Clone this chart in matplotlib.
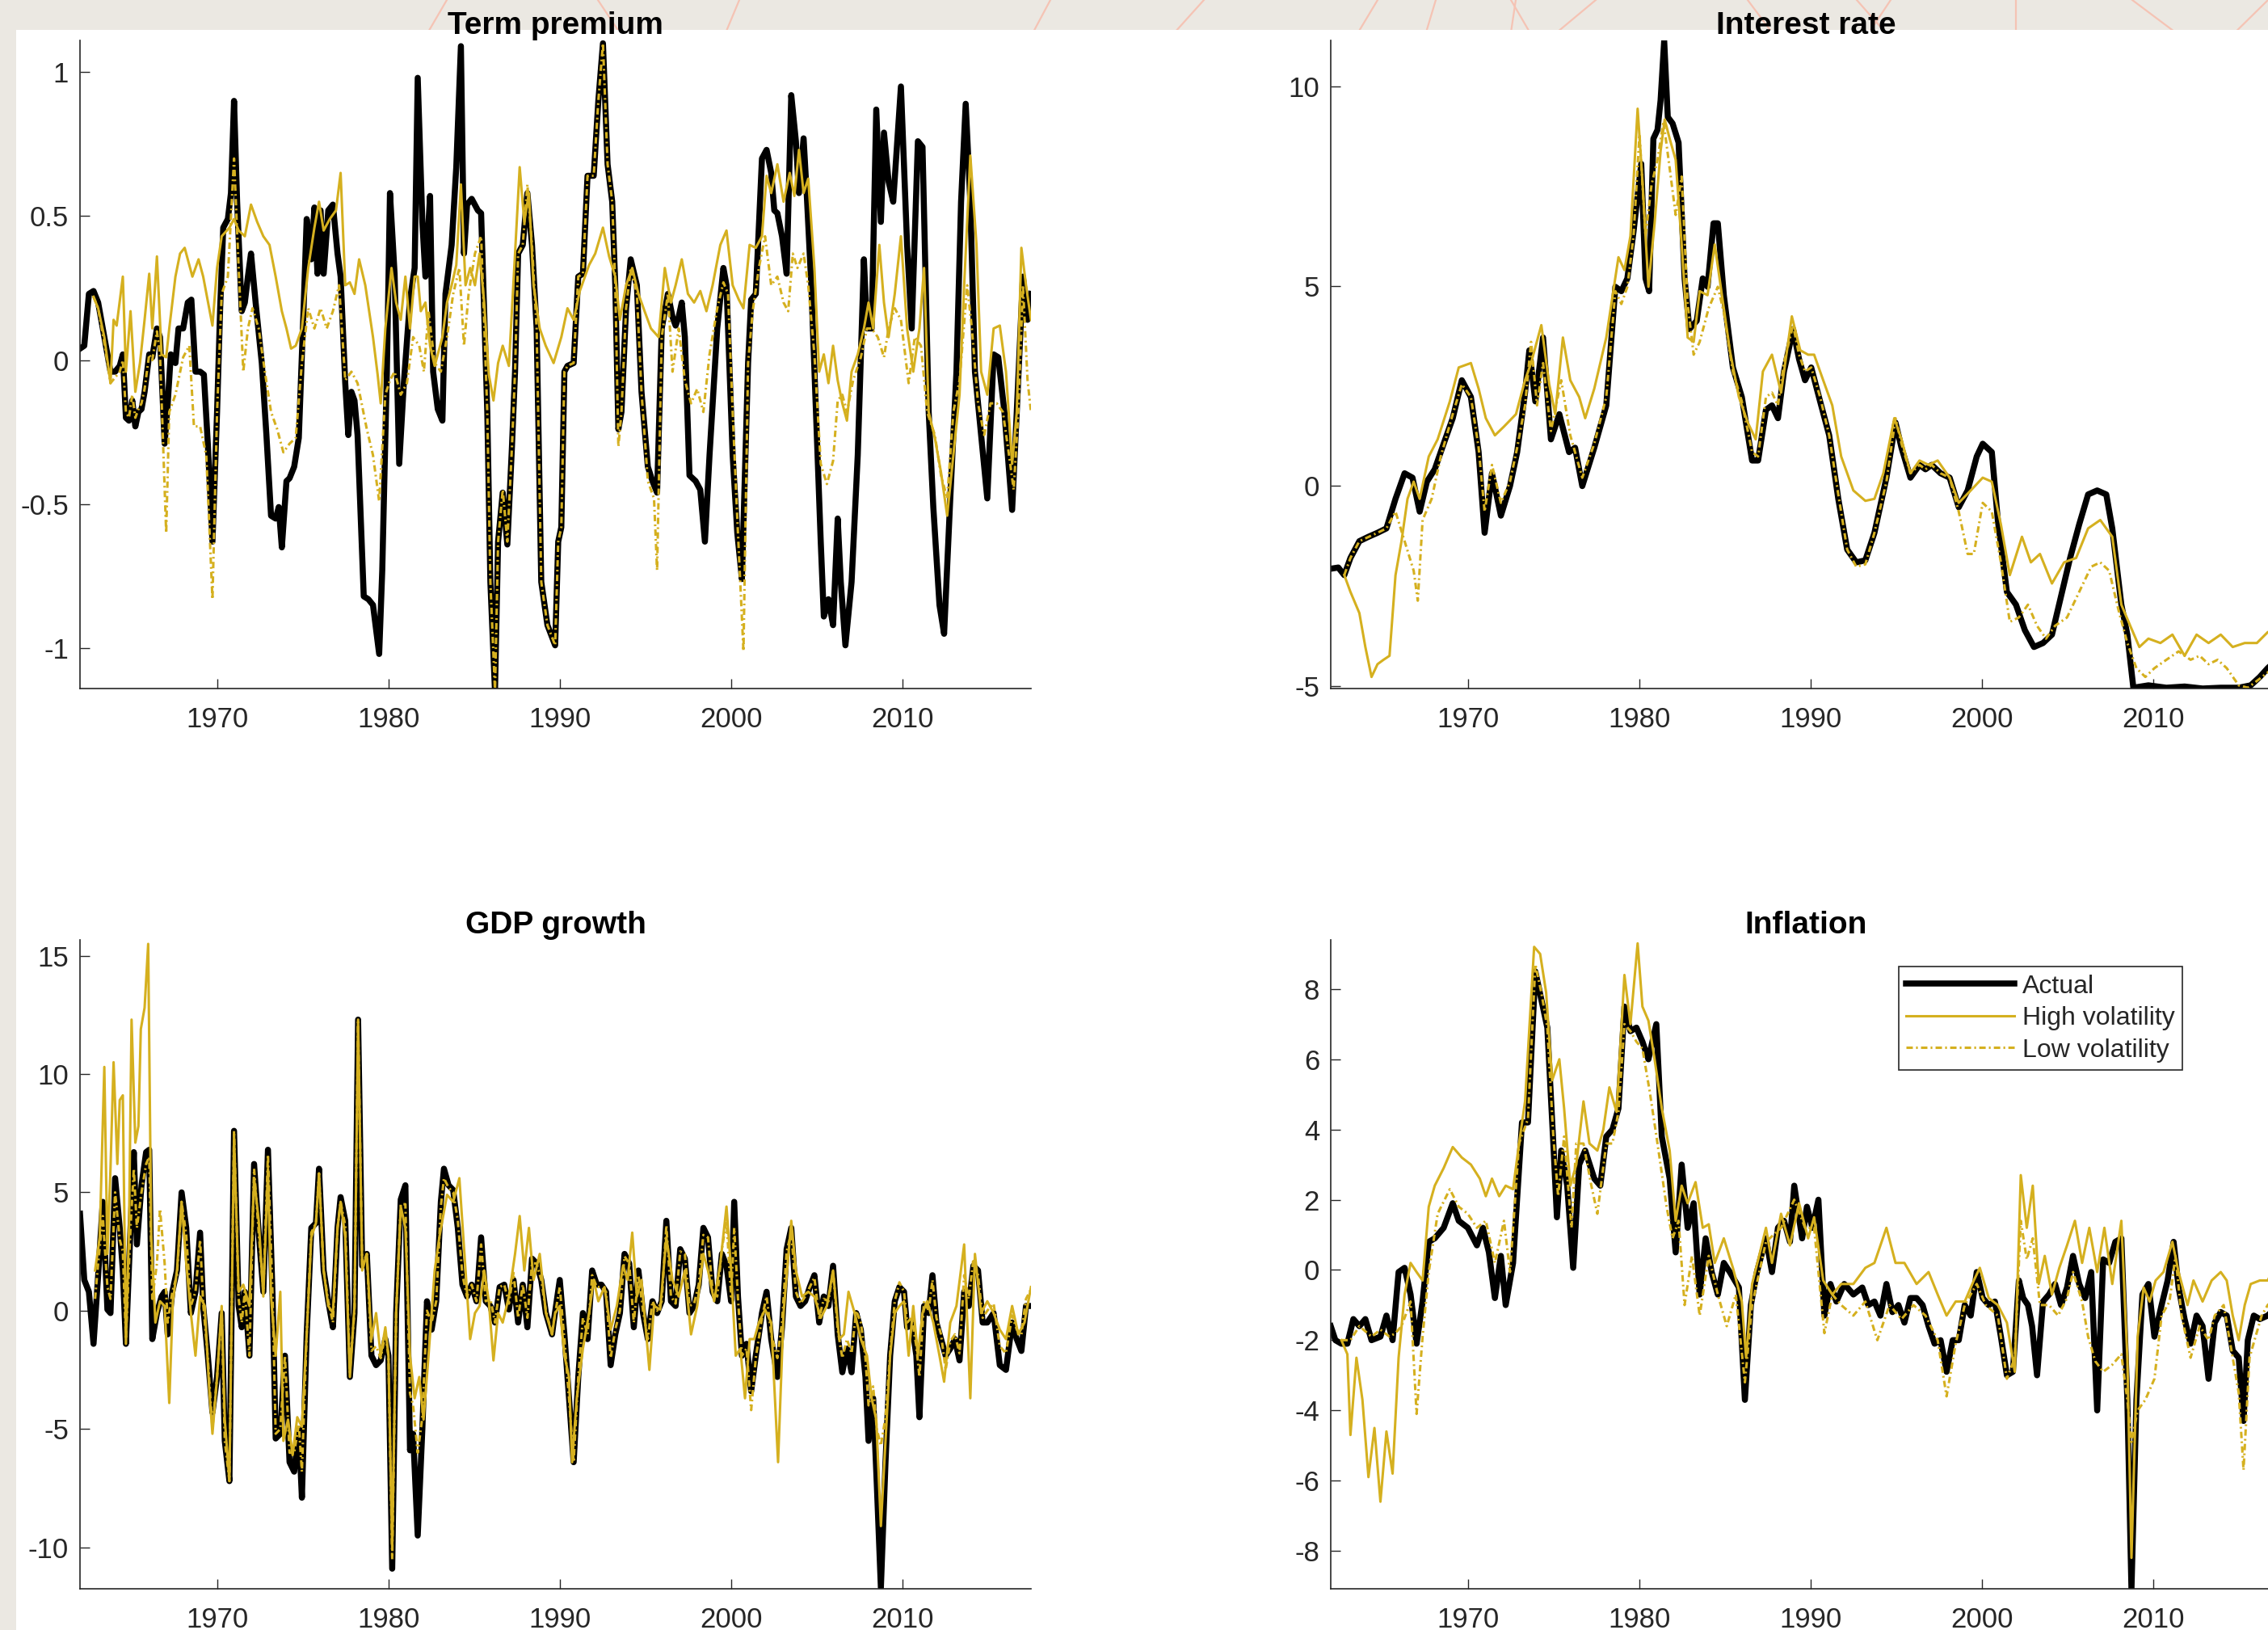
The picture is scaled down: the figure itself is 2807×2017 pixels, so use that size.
import numpy as np
import matplotlib
matplotlib.use('Agg')
import matplotlib.pyplot as plt
from matplotlib.lines import Line2D
from matplotlib.patches import Rectangle

plt.rcParams['font.family'] = ['Liberation Sans', 'DejaVu Sans']
plt.rcParams['axes.unicode_minus'] = False

W, H = 2807, 2017
GOLD = '#D5B01F'
INK = '#262626'
BG = '#EBE8E2'

series_names = ['Actual', 'High volatility', 'Low volatility']
year_ticks = [1970, 1980, 1990, 2000, 2010]

# ---------------- term premium (year, value) ----------------
tp_actual = [
    (1962.00, 0.04), (1962.25, 0.05), (1962.52, 0.23), (1962.79, 0.24), (1963.06, 0.20), (1963.42, 0.08),
    (1963.78, -0.04), (1964.05, -0.04), (1964.32, -0.02), (1964.50, 0.02), (1964.68, -0.20), (1964.86, -0.21),
    (1965.05, -0.14), (1965.23, -0.23), (1965.41, -0.18), (1965.59, -0.17), (1965.77, -0.11), (1966.04, 0.02),
    (1966.22, 0.01), (1966.49, 0.11), (1966.67, 0.08), (1966.94, -0.29), (1967.12, -0.15), (1967.30, 0.02),
    (1967.57, -0.01), (1967.75, 0.11), (1968.02, 0.11), (1968.29, 0.20), (1968.50, 0.21), (1968.74, -0.04),
    (1969.01, -0.04), (1969.23, -0.05), (1969.46, -0.29), (1969.73, -0.63), (1970.00, -0.18), (1970.18, 0.18),
    (1970.36, 0.46), (1970.63, 0.49), (1970.81, 0.58), (1970.99, 0.90), (1971.17, 0.55), (1971.44, 0.17),
    (1971.62, 0.20), (1971.80, 0.29), (1971.98, 0.37), (1972.25, 0.20), (1972.61, -0.01), (1972.88, -0.26),
    (1973.15, -0.54), (1973.42, -0.55), (1973.60, -0.51), (1973.78, -0.65), (1974.05, -0.42), (1974.23, -0.41),
    (1974.50, -0.37), (1974.77, -0.27), (1975.05, 0.18), (1975.23, 0.49), (1975.50, 0.35), (1975.68, 0.53),
    (1975.86, 0.30), (1976.04, 0.52), (1976.22, 0.30), (1976.49, 0.52), (1976.76, 0.54), (1977.03, 0.37),
    (1977.21, 0.29), (1977.48, -0.08), (1977.66, -0.26), (1977.84, -0.11), (1978.02, -0.14), (1978.20, -0.26),
    (1978.56, -0.82), (1978.83, -0.83), (1979.10, -0.85), (1979.46, -1.02), (1979.64, -0.73), (1979.91, -0.04),
    (1980.09, 0.58), (1980.36, 0.30), (1980.63, -0.36), (1980.90, -0.08), (1981.26, 0.21), (1981.53, 0.32),
    (1981.71, 0.98), (1981.98, 0.48), (1982.16, 0.29), (1982.43, 0.57), (1982.61, -0.04), (1982.88, -0.17),
    (1983.15, -0.21), (1983.33, 0.23), (1983.69, 0.40), (1983.96, 0.67), (1984.23, 1.09), (1984.41, 0.37),
    (1984.59, 0.54), (1984.86, 0.56), (1985.22, 0.52), (1985.41, 0.51), (1985.77, -0.18), (1985.95, -0.77),
    (1986.22, -1.15), (1986.40, -0.63), (1986.67, -0.46), (1986.94, -0.64), (1987.21, -0.30), (1987.39, -0.04),
    (1987.57, 0.37), (1987.84, 0.40), (1988.11, 0.58), (1988.38, 0.40), (1988.65, 0.11), (1988.92, -0.77),
    (1989.28, -0.92), (1989.73, -0.99), (1989.91, -0.63), (1990.09, -0.58), (1990.27, -0.04), (1990.45, -0.02),
    (1990.81, -0.01), (1991.08, 0.29), (1991.35, 0.30), (1991.62, 0.64), (1991.98, 0.64), (1992.25, 0.90),
    (1992.52, 1.10), (1992.79, 0.68), (1993.06, 0.55), (1993.24, 0.26), (1993.42, -0.24), (1993.60, -0.18),
    (1993.87, 0.18), (1994.14, 0.35), (1994.50, 0.26), (1994.77, -0.11), (1995.14, -0.37), (1995.41, -0.42),
    (1995.68, -0.46), (1995.95, 0.11), (1996.31, 0.23), (1996.58, 0.15), (1996.76, 0.12), (1996.94, 0.15),
    (1997.12, 0.20), (1997.30, 0.08), (1997.57, -0.40), (1997.93, -0.42), (1998.20, -0.45), (1998.47, -0.63),
    (1998.74, -0.33), (1999.19, 0.11), (1999.55, 0.32), (1999.73, 0.26), (2000.09, -0.33), (2000.36, -0.60),
    (2000.63, -0.76), (2000.99, -0.01), (2001.17, 0.21), (2001.44, 0.23), (2001.80, 0.70), (2002.07, 0.73),
    (2002.34, 0.65), (2002.52, 0.52), (2002.70, 0.51), (2002.97, 0.43), (2003.24, 0.30), (2003.51, 0.92),
    (2003.78, 0.76), (2003.96, 0.58), (2004.23, 0.77), (2004.41, 0.58), (2004.68, 0.26), (2004.95, -0.18),
    (2005.23, -0.63), (2005.41, -0.89), (2005.68, -0.83), (2005.95, -0.92), (2006.22, -0.55), (2006.40, -0.77),
    (2006.67, -0.99), (2007.03, -0.77), (2007.39, -0.33), (2007.75, 0.35), (2007.93, 0.11), (2008.20, 0.11),
    (2008.47, 0.87), (2008.74, 0.48), (2008.92, 0.79), (2009.19, 0.62), (2009.46, 0.55), (2009.91, 0.95),
    (2010.27, 0.40), (2010.54, 0.11), (2010.90, 0.76), (2011.17, 0.74), (2011.53, -0.18), (2011.80, -0.51),
    (2012.16, -0.85), (2012.43, -0.95), (2012.79, -0.48), (2013.15, -0.04), (2013.42, 0.55), (2013.69, 0.89),
    (2013.96, 0.55), (2014.23, -0.04), (2014.59, -0.26), (2014.95, -0.48), (2015.32, 0.02), (2015.59, 0.01),
    (2015.95, -0.18), (2016.40, -0.52), (2016.67, -0.18), (2017.03, 0.29), (2017.30, 0.14), (2017.50, 0.23)]

tp_high = [
    (1962.79, 0.22), (1963.06, 0.18), (1963.42, 0.08), (1963.78, -0.08), (1963.96, 0.14), (1964.14, 0.12),
    (1964.50, 0.29), (1964.68, -0.04), (1964.95, 0.17), (1965.23, -0.11), (1965.50, -0.01), (1965.77, 0.14),
    (1966.04, 0.30), (1966.22, 0.11), (1966.49, 0.36), (1966.76, 0.02), (1967.03, 0.01), (1967.21, 0.11),
    (1967.57, 0.29), (1967.84, 0.37), (1968.11, 0.39), (1968.29, 0.35), (1968.56, 0.29), (1968.92, 0.35),
    (1969.19, 0.29), (1969.73, 0.12), (1970.00, 0.32), (1970.27, 0.43), (1970.72, 0.46), (1970.99, 0.49),
    (1971.26, 0.45), (1971.62, 0.43), (1971.98, 0.54), (1972.34, 0.48), (1972.70, 0.43), (1973.06, 0.40),
    (1973.42, 0.29), (1973.78, 0.17), (1974.05, 0.11), (1974.32, 0.04), (1974.59, 0.05), (1974.95, 0.11),
    (1975.32, 0.32), (1975.68, 0.46), (1975.95, 0.55), (1976.22, 0.45), (1976.58, 0.49), (1976.94, 0.52),
    (1977.21, 0.65), (1977.48, 0.26), (1977.75, 0.27), (1978.02, 0.23), (1978.29, 0.35), (1978.65, 0.26),
    (1979.10, 0.08), (1979.37, -0.05), (1979.55, -0.15), (1979.82, 0.11), (1980.18, 0.32), (1980.45, 0.20),
    (1980.72, 0.14), (1980.99, 0.29), (1981.26, 0.11), (1981.53, 0.29), (1981.71, 0.29), (1981.89, 0.17),
    (1982.16, 0.20), (1982.43, 0.05), (1982.70, -0.02), (1982.88, 0.02), (1983.15, 0.08), (1983.42, 0.20),
    (1983.69, 0.26), (1983.96, 0.33), (1984.23, 0.61), (1984.50, 0.26), (1984.77, 0.32), (1985.05, 0.26),
    (1985.32, 0.37), (1985.59, 0.20), (1985.86, -0.05), (1986.13, -0.14), (1986.40, -0.01), (1986.67, 0.05),
    (1987.03, -0.02), (1987.39, 0.37), (1987.66, 0.67), (1987.93, 0.48), (1988.20, 0.58), (1988.47, 0.26),
    (1988.83, 0.11), (1989.18, 0.05), (1989.64, -0.01), (1990.09, 0.08), (1990.45, 0.18), (1990.81, 0.14),
    (1991.17, 0.24), (1991.71, 0.33), (1992.07, 0.37), (1992.52, 0.46), (1992.88, 0.36), (1993.24, 0.29),
    (1993.51, 0.14), (1993.87, 0.26), (1994.23, 0.32), (1994.59, 0.23), (1994.95, 0.17), (1995.32, 0.11),
    (1995.77, 0.08), (1996.13, 0.32), (1996.49, 0.20), (1996.76, 0.26), (1997.12, 0.35), (1997.48, 0.23),
    (1997.84, 0.20), (1998.20, 0.24), (1998.56, 0.17), (1998.92, 0.26), (1999.37, 0.40), (1999.73, 0.45),
    (2000.09, 0.26), (2000.45, 0.21), (2000.72, 0.18), (2001.08, 0.40), (2001.44, 0.39), (2001.80, 0.43),
    (2002.07, 0.64), (2002.34, 0.58), (2002.70, 0.68), (2003.06, 0.55), (2003.42, 0.65), (2003.69, 0.57),
    (2003.96, 0.73), (2004.23, 0.58), (2004.50, 0.63), (2004.86, 0.32), (2005.14, -0.04), (2005.41, 0.02),
    (2005.68, -0.08), (2005.95, 0.05), (2006.22, -0.07), (2006.49, -0.15), (2006.76, -0.21), (2007.03, -0.04),
    (2007.39, 0.02), (2007.75, 0.11), (2008.02, 0.20), (2008.29, 0.11), (2008.65, 0.40), (2008.92, 0.20),
    (2009.19, 0.08), (2009.55, 0.23), (2009.91, 0.43), (2010.27, 0.11), (2010.63, -0.04), (2010.99, 0.11),
    (2011.26, 0.32), (2011.53, -0.18), (2011.89, -0.27), (2012.25, -0.39), (2012.61, -0.54), (2012.97, -0.33),
    (2013.33, -0.12), (2013.60, 0.26), (2013.96, 0.71), (2014.32, 0.40), (2014.59, -0.04), (2014.95, -0.12),
    (2015.32, 0.11), (2015.68, 0.12), (2016.04, -0.04), (2016.40, -0.36), (2016.67, -0.18), (2016.94, 0.39),
    (2017.21, 0.26), (2017.50, 0.14)]

tp_low = [
    (1962.79, 0.22), (1963.06, 0.18), (1963.42, 0.06), (1963.78, -0.08), (1964.05, -0.06), (1964.32, -0.04),
    (1964.50, 0.00), (1964.68, -0.18), (1964.86, -0.20), (1965.05, -0.12), (1965.23, -0.20), (1965.41, -0.17),
    (1965.59, -0.15), (1965.77, -0.10), (1966.04, 0.02), (1966.22, 0.00), (1966.49, 0.10), (1966.67, 0.02),
    (1967.03, -0.60), (1967.21, -0.18), (1967.57, -0.12), (1968.02, 0.01), (1968.38, 0.05), (1968.65, -0.23),
    (1969.01, -0.23), (1969.37, -0.33), (1969.73, -0.83), (1970.00, -0.18), (1970.27, 0.23), (1970.63, 0.29),
    (1970.99, 0.70), (1971.26, 0.32), (1971.53, -0.04), (1971.80, 0.11), (1972.07, 0.18), (1972.43, 0.11),
    (1972.79, -0.04), (1973.15, -0.18), (1973.51, -0.24), (1973.87, -0.32), (1974.23, -0.29), (1974.59, -0.27),
    (1974.95, -0.01), (1975.32, 0.18), (1975.68, 0.11), (1976.04, 0.18), (1976.40, 0.11), (1976.76, 0.17),
    (1977.12, 0.26), (1977.48, -0.07), (1977.84, -0.04), (1978.20, -0.08), (1978.74, -0.24), (1979.10, -0.33),
    (1979.46, -0.49), (1979.82, -0.12), (1980.09, -0.07), (1980.36, -0.04), (1980.72, -0.12), (1981.08, -0.08),
    (1981.44, 0.08), (1981.80, 0.05), (1982.07, -0.04), (1982.34, 0.17), (1982.70, -0.01), (1983.06, -0.04),
    (1983.42, 0.08), (1983.78, 0.23), (1984.14, 0.32), (1984.41, 0.05), (1984.68, 0.23), (1985.05, 0.37),
    (1985.41, 0.43), (1985.77, -0.18), (1985.95, -0.77), (1986.22, -1.15), (1986.40, -0.63), (1986.67, -0.45),
    (1986.94, -0.63), (1987.21, -0.30), (1987.39, -0.04), (1987.57, 0.37), (1987.84, 0.40), (1988.11, 0.61),
    (1988.38, 0.40), (1988.65, 0.11), (1988.92, -0.77), (1989.28, -0.92), (1989.73, -0.99), (1989.91, -0.63),
    (1990.09, -0.58), (1990.27, -0.04), (1990.45, -0.02), (1990.81, -0.01), (1991.08, 0.29), (1991.35, 0.30),
    (1991.62, 0.64), (1991.98, 0.64), (1992.25, 0.90), (1992.52, 1.10), (1992.79, 0.68), (1993.06, 0.55),
    (1993.24, 0.26), (1993.42, -0.30), (1993.60, -0.18), (1993.87, 0.18), (1994.14, 0.32), (1994.50, 0.23),
    (1994.77, -0.11), (1995.14, -0.42), (1995.50, -0.48), (1995.68, -0.73), (1995.95, 0.08), (1996.31, 0.23),
    (1996.58, -0.04), (1996.94, 0.11), (1997.30, -0.07), (1997.66, -0.15), (1998.02, -0.10), (1998.38, -0.18),
    (1998.74, 0.02), (1999.19, 0.18), (1999.55, 0.27), (1999.82, 0.23), (2000.09, -0.18), (2000.36, -0.55),
    (2000.72, -1.01), (2000.99, -0.01), (2001.26, 0.17), (2001.62, 0.32), (2001.98, 0.43), (2002.34, 0.26),
    (2002.70, 0.29), (2003.06, 0.20), (2003.33, 0.17), (2003.60, 0.37), (2003.87, 0.32), (2004.23, 0.37),
    (2004.50, 0.26), (2004.86, 0.02), (2005.23, -0.36), (2005.59, -0.43), (2005.95, -0.35), (2006.22, -0.14),
    (2006.49, -0.12), (2006.76, -0.18), (2007.12, -0.07), (2007.57, 0.01), (2007.93, 0.11), (2008.20, 0.11),
    (2008.56, 0.08), (2008.92, 0.01), (2009.19, 0.11), (2009.55, 0.18), (2009.91, 0.14), (2010.36, -0.08),
    (2010.72, 0.08), (2011.08, 0.05), (2011.44, -0.18), (2011.89, -0.26), (2012.25, -0.40), (2012.61, -0.48),
    (2012.97, -0.18), (2013.33, -0.07), (2013.78, 0.26), (2014.05, 0.11), (2014.41, -0.15), (2014.77, -0.26),
    (2015.14, -0.15), (2015.50, -0.15), (2015.86, -0.18), (2016.22, -0.33), (2016.49, -0.45), (2016.76, -0.18),
    (2017.03, 0.26), (2017.30, -0.07), (2017.50, -0.18)]

# ---------------- interest rate ----------------
ir_actual = [
    (1962.00, -2.07), (1962.44, -2.04), (1962.79, -2.23), (1963.15, -1.80), (1963.67, -1.38), (1964.20, -1.27),
    (1964.73, -1.17), (1965.25, -1.06), (1965.78, -0.32), (1966.31, 0.32), (1966.77, 0.21), (1967.19, -0.64),
    (1967.61, 0.11), (1968.07, 0.42), (1968.59, 1.06), (1969.12, 1.70), (1969.65, 2.65), (1970.18, 2.23),
    (1970.63, 0.85), (1970.98, -1.17), (1971.41, 0.32), (1971.93, -0.74), (1972.46, 0.00), (1972.88, 0.85),
    (1973.34, 2.34), (1973.59, 3.40), (1973.94, 2.12), (1974.39, 3.72), (1974.85, 1.17), (1975.34, 1.80),
    (1975.91, 0.85), (1976.26, 0.96), (1976.68, 0.00), (1977.38, 0.96), (1978.08, 2.02), (1978.61, 4.99),
    (1978.96, 4.88), (1979.31, 5.20), (1979.67, 6.37), (1980.12, 8.07), (1980.37, 5.20), (1980.58, 4.88),
    (1980.83, 8.70), (1981.07, 8.92), (1981.25, 9.66), (1981.46, 11.15), (1981.67, 9.24), (1981.95, 9.08),
    (1982.30, 8.60), (1982.65, 5.20), (1982.93, 3.93), (1983.36, 4.14), (1983.71, 5.20), (1983.99, 4.99),
    (1984.34, 6.58), (1984.59, 6.58), (1984.94, 4.78), (1985.47, 2.97), (1985.99, 2.23), (1986.59, 0.64),
    (1986.94, 0.64), (1987.40, 1.91), (1987.75, 2.02), (1988.10, 1.70), (1988.45, 2.87), (1988.98, 3.93),
    (1989.33, 3.18), (1989.68, 2.65), (1990.04, 2.97), (1990.56, 2.12), (1991.09, 1.27), (1991.62, -0.32),
    (1992.14, -1.59), (1992.67, -1.91), (1993.20, -1.86), (1993.73, -1.17), (1994.43, 0.21), (1994.96, 1.59),
    (1995.31, 0.96), (1995.83, 0.21), (1996.36, 0.53), (1996.71, 0.42), (1997.07, 0.53), (1997.59, 0.32),
    (1998.12, 0.21), (1998.65, -0.53), (1999.17, -0.11), (1999.70, 0.74), (2000.05, 1.06), (2000.58, 0.85),
    (2000.93, -0.85), (2001.46, -2.65), (2001.99, -2.97), (2002.51, -3.61), (2003.04, -4.03), (2003.57, -3.93),
    (2004.09, -3.72), (2004.62, -2.76), (2005.15, -1.80), (2005.68, -0.96), (2006.20, -0.21), (2006.73, -0.11),
    (2007.26, -0.21), (2007.61, -1.06), (2008.14, -2.97), (2008.49, -3.72), (2008.84, -5.05), (2009.72, -4.99),
    (2010.77, -5.05), (2011.83, -5.02), (2012.88, -5.07), (2013.94, -5.05), (2014.99, -5.05), (2015.69, -4.99),
    (2016.22, -4.78), (2016.68, -4.56), (2017.10, -4.40), (2017.50, -4.30)]

ir_high = [
    (1962.79, -2.23), (1963.15, -2.65), (1963.67, -3.18), (1964.02, -4.03), (1964.38, -4.78), (1964.73, -4.46),
    (1965.08, -4.35), (1965.43, -4.25), (1965.78, -2.23), (1966.13, -1.38), (1966.48, -0.32), (1966.84, 0.11),
    (1967.19, -0.32), (1967.72, 0.74), (1968.24, 1.17), (1968.95, 2.12), (1969.47, 2.97), (1970.18, 3.08),
    (1970.63, 2.44), (1971.05, 1.70), (1971.58, 1.27), (1972.11, 1.49), (1972.81, 1.80), (1973.34, 2.65),
    (1973.69, 3.08), (1974.29, 4.03), (1974.75, 2.55), (1975.10, 1.80), (1975.55, 3.72), (1975.98, 2.65),
    (1976.50, 2.23), (1976.85, 1.70), (1977.38, 2.44), (1978.08, 3.72), (1978.79, 5.73), (1979.14, 5.41),
    (1979.49, 6.26), (1979.91, 9.45), (1980.19, 7.64), (1980.54, 4.99), (1980.90, 6.58), (1981.25, 8.39),
    (1981.49, 9.18), (1981.78, 8.70), (1982.13, 8.17), (1982.48, 6.05), (1982.83, 3.72), (1983.18, 3.61),
    (1983.53, 4.88), (1983.99, 4.78), (1984.41, 6.05), (1984.76, 4.99), (1985.29, 3.40), (1985.82, 2.23),
    (1986.34, 1.59), (1986.80, 1.17), (1987.22, 2.87), (1987.75, 3.29), (1988.28, 2.34), (1988.91, 4.25),
    (1989.40, 3.40), (1989.86, 3.29), (1990.21, 3.29), (1990.74, 2.65), (1991.27, 2.02), (1991.79, 0.74),
    (1992.50, -0.11), (1993.20, -0.37), (1993.73, -0.32), (1994.25, 0.32), (1994.89, 1.70), (1995.31, 1.17),
    (1995.83, 0.32), (1996.36, 0.64), (1996.89, 0.53), (1997.42, 0.64), (1998.12, 0.21), (1998.65, -0.42),
    (1999.35, -0.11), (2000.05, 0.21), (2000.58, 0.11), (2001.11, -0.96), (2001.63, -2.23), (2002.34, -1.27),
    (2002.86, -1.91), (2003.39, -1.70), (2004.09, -2.44), (2004.80, -1.91), (2005.50, -1.80), (2006.20, -1.06),
    (2006.91, -0.85), (2007.61, -1.27), (2008.14, -2.97), (2008.66, -3.50), (2009.19, -4.03), (2009.72, -3.82),
    (2010.42, -3.93), (2011.12, -3.72), (2011.83, -4.25), (2012.53, -3.72), (2013.23, -3.93), (2013.94, -3.72),
    (2014.64, -4.03), (2015.34, -3.93), (2016.05, -3.93), (2016.68, -3.66), (2017.50, -3.50)]

ir_low = [
    (1962.79, -2.23), (1963.15, -1.80), (1963.67, -1.38), (1964.73, -1.17), (1965.25, -1.06), (1965.78, -0.64),
    (1966.31, -1.38), (1966.84, -2.12), (1967.08, -2.87), (1967.36, -0.85), (1967.89, -0.32), (1968.42, 0.74),
    (1969.12, 1.80), (1969.65, 2.55), (1970.18, 2.23), (1970.63, 0.96), (1970.98, -0.64), (1971.41, 0.53),
    (1971.93, -0.42), (1972.46, 0.11), (1972.88, 0.96), (1973.34, 2.02), (1973.69, 3.61), (1974.04, 2.02),
    (1974.39, 3.08), (1974.85, 1.38), (1975.45, 2.65), (1975.98, 1.27), (1976.68, 0.21), (1977.38, 1.06),
    (1978.08, 2.23), (1978.61, 4.88), (1978.96, 4.56), (1979.31, 4.99), (1979.67, 6.26), (1980.02, 8.81),
    (1980.37, 6.26), (1980.72, 7.54), (1981.07, 8.17), (1981.42, 9.13), (1981.78, 7.96), (1982.13, 6.79),
    (1982.48, 7.75), (1982.83, 4.56), (1983.18, 3.29), (1983.53, 3.61), (1984.06, 4.46), (1984.59, 4.99),
    (1984.94, 4.35), (1985.47, 2.87), (1985.99, 2.12), (1986.59, 0.85), (1986.94, 0.74), (1987.40, 2.23),
    (1987.75, 2.34), (1988.10, 2.02), (1988.45, 3.08), (1988.98, 4.03), (1989.33, 3.29), (1989.68, 2.87),
    (1990.04, 2.97), (1990.56, 2.23), (1991.09, 1.27), (1991.62, -0.21), (1992.14, -1.59), (1992.67, -2.02),
    (1993.20, -1.96), (1993.73, -1.17), (1994.43, 0.11), (1994.96, 1.70), (1995.31, 1.06), (1995.83, 0.32),
    (1996.36, 0.53), (1996.71, 0.42), (1997.07, 0.53), (1997.59, 0.32), (1998.12, 0.21), (1998.65, -0.64),
    (1999.17, -1.70), (1999.53, -1.70), (2000.05, -0.42), (2000.58, -0.64), (2001.11, -1.91), (2001.63, -3.40),
    (2002.16, -3.29), (2002.69, -2.97), (2003.22, -3.50), (2003.74, -3.82), (2004.27, -3.50), (2004.97, -3.29),
    (2005.68, -2.65), (2006.38, -2.02), (2006.91, -1.91), (2007.43, -2.12), (2007.96, -3.08), (2008.49, -3.93),
    (2009.02, -4.56), (2009.54, -4.78), (2010.07, -4.56), (2010.77, -4.35), (2011.48, -4.14), (2012.18, -4.35),
    (2012.71, -4.25), (2013.23, -4.46), (2013.76, -4.35), (2014.29, -4.56), (2014.99, -4.99), (2015.52, -5.05),
    (2016.05, -4.88), (2016.68, -4.67), (2017.50, -4.40)]

# ---------------- GDP growth ----------------
gdp_actual = [
    (1962.00, 4.1), (1962.25, 1.3), (1962.52, 0.8), (1962.79, -1.4), (1963.06, 1.5), (1963.33, 4.6),
    (1963.60, 0.05), (1963.78, -0.1), (1964.05, 5.6), (1964.32, 3.5), (1964.50, 1.7), (1964.68, -1.4),
    (1964.95, 3.5), (1965.14, 6.7), (1965.32, 2.8), (1965.59, 5.3), (1965.86, 6.7), (1966.04, 6.8),
    (1966.22, -1.2), (1966.49, -0.1), (1966.76, 0.6), (1966.94, 0.8), (1967.12, -1.0), (1967.39, 0.8),
    (1967.66, 1.7), (1967.93, 5.0), (1968.20, 3.5), (1968.47, -0.1), (1968.74, 0.8), (1969.01, 3.3),
    (1969.19, 0.2), (1969.46, -1.9), (1969.73, -4.3), (1970.00, -2.8), (1970.27, -0.1), (1970.45, -5.5),
    (1970.72, -7.2), (1970.99, 7.6), (1971.26, 0.2), (1971.44, -0.7), (1971.62, 0.8), (1971.89, -1.9),
    (1972.16, 6.2), (1972.43, 3.3), (1972.70, 0.8), (1972.97, 6.8), (1973.24, 0.6), (1973.42, -5.4),
    (1973.69, -5.2), (1973.96, -1.9), (1974.23, -6.4), (1974.50, -6.8), (1974.77, -5.0), (1974.95, -7.9),
    (1975.23, -1.0), (1975.50, 3.5), (1975.77, 3.7), (1975.95, 6.0), (1976.22, 1.7), (1976.49, 0.4),
    (1976.76, -0.7), (1977.03, 3.5), (1977.21, 4.8), (1977.48, 3.8), (1977.75, -2.8), (1978.02, -0.1),
    (1978.23, 12.3), (1978.47, 1.9), (1978.74, 2.4), (1979.01, -1.9), (1979.28, -2.3), (1979.55, -2.1),
    (1979.82, -1.2), (1980.00, -1.9), (1980.22, -10.9), (1980.45, -0.1), (1980.72, 4.7), (1980.99, 5.3),
    (1981.26, -5.9), (1981.44, -5.2), (1981.71, -9.5), (1981.98, -5.0), (1982.25, 0.4), (1982.52, -0.8),
    (1982.79, 0.4), (1983.06, 4.6), (1983.24, 6.0), (1983.51, 5.3), (1983.78, 5.1), (1984.05, 3.5),
    (1984.32, 1.1), (1984.59, 0.6), (1984.86, 1.1), (1985.14, 0.4), (1985.41, 3.1), (1985.68, 0.4),
    (1985.95, 0.2), (1986.22, -0.5), (1986.49, 1.0), (1986.76, 1.1), (1987.03, 0.05), (1987.30, 1.3),
    (1987.57, -0.5), (1987.84, 1.1), (1988.11, -0.7), (1988.38, 2.2), (1988.65, 2.0), (1988.92, 1.3),
    (1989.19, -0.1), (1989.55, -1.0), (1989.64, -0.5), (1990.00, 1.3), (1990.27, -1.0), (1990.54, -3.7),
    (1990.81, -6.4), (1991.08, -2.8), (1991.35, -0.1), (1991.62, -1.2), (1991.89, 1.7), (1992.16, 1.1),
    (1992.43, 1.1), (1992.70, 0.8), (1992.97, -2.3), (1993.24, -1.0), (1993.51, -0.1), (1993.78, 2.4),
    (1994.05, 2.0), (1994.32, -0.7), (1994.59, 1.7), (1994.86, -0.1), (1995.14, -1.2), (1995.41, 0.4),
    (1995.68, -0.1), (1995.95, 0.4), (1996.22, 3.8), (1996.49, 0.4), (1996.76, 0.2), (1997.03, 2.6),
    (1997.30, 2.2), (1997.57, -0.1), (1997.84, 0.2), (1998.11, 1.1), (1998.38, 3.5), (1998.65, 3.1),
    (1998.92, 0.8), (1999.19, 0.4), (1999.46, 2.4), (1999.73, 1.9), (2000.00, 0.4), (2000.18, 4.6),
    (2000.40, 0.6), (2000.63, -1.9), (2000.90, -1.4), (2001.17, -3.4), (2001.44, -1.9), (2001.80, -0.1),
    (2002.07, 0.8), (2002.34, -1.2), (2002.70, -2.8), (2002.97, -0.7), (2003.24, 2.6), (2003.51, 3.5),
    (2003.78, 0.6), (2004.05, 0.2), (2004.32, 0.4), (2004.59, 1.0), (2004.86, 1.5), (2005.14, -0.5),
    (2005.41, 0.6), (2005.68, 0.2), (2005.95, 1.9), (2006.22, -1.0), (2006.49, -2.6), (2006.76, -1.6),
    (2007.03, -2.6), (2007.30, -0.1), (2007.57, -0.8), (2007.84, -2.8), (2008.02, -5.5), (2008.29, -3.7),
    (2008.50, -7.3), (2008.74, -11.7), (2009.01, -6.4), (2009.28, -1.9), (2009.55, 0.4), (2009.82, 1.0),
    (2010.09, 0.8), (2010.27, -0.7), (2010.54, -0.5), (2010.81, -1.9), (2010.99, -4.5), (2011.26, 0.2),
    (2011.53, -0.1), (2011.75, 1.5), (2011.98, -0.5), (2012.25, -1.2), (2012.52, -1.9), (2012.79, -1.6),
    (2013.06, -1.2), (2013.33, -2.1), (2013.60, 0.8), (2013.87, 0.2), (2014.14, 1.9), (2014.41, 1.7),
    (2014.68, -0.5), (2014.95, -0.5), (2015.32, -0.1), (2015.68, -2.3), (2016.04, -2.5), (2016.40, -0.5),
    (2016.67, -1.2), (2016.94, -1.7), (2017.21, 0.2), (2017.50, 0.2)]

gdp_high = [
    (1962.88, 1.7), (1963.15, 3.1), (1963.42, 10.3), (1963.60, 2.4), (1963.78, 6.0), (1963.96, 10.5),
    (1964.18, 6.2), (1964.32, 8.9), (1964.50, 9.1), (1964.68, -1.4), (1964.86, 3.5), (1965.01, 12.3),
    (1965.23, 7.1), (1965.41, 7.8), (1965.55, 11.9), (1965.77, 12.8), (1965.98, 15.5), (1966.16, 3.1),
    (1966.40, -0.5), (1966.67, 0.4), (1966.94, 0.2), (1967.21, -3.9), (1967.42, 0.4), (1967.66, 1.7),
    (1967.93, 4.6), (1968.20, 2.0), (1968.47, -0.1), (1968.74, -1.9), (1969.01, 0.6), (1969.28, 0.2),
    (1969.55, -3.4), (1969.73, -5.2), (1970.00, -2.8), (1970.27, 0.2), (1970.45, -4.6), (1970.72, -7.2),
    (1970.99, 7.4), (1971.26, 0.8), (1971.53, 1.1), (1971.89, 0.2), (1972.16, 5.6), (1972.43, 3.8),
    (1972.70, 0.6), (1972.97, 6.0), (1973.15, 0.6), (1973.42, -1.9), (1973.69, 0.8), (1973.87, -5.5),
    (1974.14, -4.6), (1974.41, -6.1), (1974.68, -4.5), (1974.95, -4.9), (1975.23, -1.0), (1975.50, 3.1),
    (1975.77, 3.7), (1975.95, 5.8), (1976.22, 1.7), (1976.49, 0.2), (1976.76, -0.1), (1977.03, 3.5),
    (1977.21, 4.6), (1977.48, 3.1), (1977.75, -2.8), (1978.02, 0.2), (1978.23, 12.3), (1978.47, 1.7),
    (1978.74, 2.4), (1979.01, -1.2), (1979.28, -0.1), (1979.55, -1.9), (1979.82, -0.7), (1980.00, -1.9),
    (1980.22, -10.0), (1980.45, -0.1), (1980.72, 4.4), (1980.99, 3.5), (1981.26, -1.9), (1981.53, -3.7),
    (1981.80, -2.8), (1982.05, -4.6), (1982.34, -1.9), (1982.70, 1.7), (1982.97, 3.1), (1983.42, 4.9),
    (1983.78, 4.6), (1984.14, 5.6), (1984.50, 1.7), (1984.77, -1.2), (1985.05, -0.1), (1985.32, 0.2),
    (1985.59, 1.7), (1985.86, 0.4), (1986.13, -2.1), (1986.40, -0.1), (1986.67, -0.5), (1987.03, 0.6),
    (1987.39, 2.4), (1987.66, 4.0), (1987.93, 1.7), (1988.20, 3.5), (1988.47, 1.3), (1988.83, 2.4),
    (1989.19, -0.1), (1989.55, -1.0), (1989.73, -0.1), (1990.00, 0.2), (1990.27, -1.9), (1990.54, -2.8),
    (1990.72, -6.4), (1990.99, -3.7), (1991.35, -1.6), (1991.71, -0.1), (1991.98, 1.3), (1992.25, 0.4),
    (1992.61, 1.0), (1992.97, -0.8), (1993.33, 0.2), (1993.69, 1.9), (1993.96, 1.3), (1994.23, 3.3),
    (1994.50, 0.6), (1994.77, 1.3), (1995.23, -2.5), (1995.50, 0.2), (1995.86, 0.05), (1996.22, 3.1),
    (1996.58, 1.3), (1996.94, 0.6), (1997.30, 1.7), (1997.66, -1.0), (1998.02, 0.2), (1998.38, 2.4),
    (1998.65, 1.7), (1999.01, 0.4), (1999.37, 2.0), (1999.73, 4.4), (2000.00, 1.7), (2000.27, -1.9),
    (2000.54, -1.6), (2000.81, -3.7), (2001.08, -1.2), (2001.35, -1.2), (2001.62, -0.5), (2001.98, 0.05),
    (2002.34, -0.5), (2002.74, -6.4), (2003.06, -0.1), (2003.51, 3.8), (2003.78, 1.7), (2004.14, 0.6),
    (2004.50, 0.8), (2004.86, 0.6), (2005.23, -0.3), (2005.59, 0.2), (2005.95, 1.7), (2006.31, -1.2),
    (2006.58, -1.0), (2006.85, 0.8), (2007.21, -0.1), (2007.57, -1.2), (2007.93, -1.9), (2008.20, -3.7),
    (2008.47, -4.6), (2008.74, -9.1), (2009.01, -5.5), (2009.28, -1.9), (2009.55, -0.1), (2009.82, 0.2),
    (2010.09, 0.4), (2010.36, -1.9), (2010.63, 0.2), (2010.90, -1.9), (2011.17, -0.1), (2011.44, 0.4),
    (2011.80, -0.5), (2012.16, -1.9), (2012.43, -3.0), (2012.79, -0.5), (2013.15, 0.2), (2013.60, 2.8),
    (2013.96, -3.7), (2014.23, 2.4), (2014.59, -0.1), (2014.95, 0.4), (2015.32, -0.1), (2015.68, -0.8),
    (2016.04, -1.2), (2016.40, 0.2), (2016.76, -1.0), (2017.12, -0.5), (2017.50, 1.0)]

gdp_low = [
    (1962.88, 0.5), (1963.06, 2.0), (1963.33, 4.0), (1963.60, 1.0), (1963.78, 0.5), (1964.05, 5.0),
    (1964.32, 3.0), (1964.50, 2.5), (1964.68, -1.2), (1964.95, 3.5), (1965.14, 6.0), (1965.32, 3.5),
    (1965.59, 5.0), (1965.86, 6.2), (1966.04, 6.5), (1966.22, 0.5), (1966.49, 2.0), (1966.67, 4.3),
    (1966.94, 2.0), (1967.12, -0.5), (1967.39, 0.8), (1967.66, 1.5), (1967.93, 4.6), (1968.20, 3.2),
    (1968.47, 0.2), (1968.74, 0.8), (1969.01, 3.0), (1969.19, 0.3), (1969.46, -2.0), (1969.73, -5.0),
    (1970.00, -2.8), (1970.27, 0.0), (1970.45, -5.5), (1970.72, -7.2), (1970.99, 7.6), (1971.26, 0.5),
    (1971.44, -0.5), (1971.62, 0.8), (1971.89, -1.9), (1972.16, 6.0), (1972.43, 3.3), (1972.70, 0.8),
    (1972.97, 6.6), (1973.24, 0.6), (1973.42, -5.2), (1973.69, -5.0), (1973.96, -1.9), (1974.23, -6.0),
    (1974.50, -6.0), (1974.77, -4.8), (1974.95, -6.8), (1975.23, -1.0), (1975.50, 3.3), (1975.77, 3.7),
    (1975.95, 5.8), (1976.22, 1.7), (1976.49, 0.4), (1976.76, -0.5), (1977.03, 3.5), (1977.21, 4.6),
    (1977.48, 3.6), (1977.75, -2.6), (1978.02, 0.0), (1978.23, 12.2), (1978.47, 1.9), (1978.74, 2.4),
    (1979.01, -1.7), (1979.28, -1.5), (1979.55, -2.0), (1979.82, -1.0), (1980.00, -1.9), (1980.22, -10.5),
    (1980.45, -0.1), (1980.72, 4.5), (1980.99, 4.5), (1981.26, -3.5), (1981.44, -4.0), (1981.71, -6.0),
    (1981.98, -4.5), (1982.25, 0.0), (1982.52, -0.5), (1982.79, 0.4), (1983.06, 4.4), (1983.24, 5.6),
    (1983.51, 5.2), (1983.78, 5.0), (1984.05, 3.8), (1984.32, 1.5), (1984.59, 0.6), (1984.86, 1.1),
    (1985.14, 0.4), (1985.41, 2.8), (1985.68, 0.4), (1985.95, 0.5), (1986.22, -0.5), (1986.49, 1.0),
    (1986.76, 1.1), (1987.03, 0.3), (1987.30, 1.6), (1987.57, -0.3), (1987.84, 1.1), (1988.11, -0.3),
    (1988.38, 2.0), (1988.65, 2.0), (1988.92, 1.3), (1989.19, 0.0), (1989.55, -1.0), (1989.64, -0.5),
    (1990.00, 1.0), (1990.27, -1.2), (1990.54, -3.7), (1990.81, -6.4), (1991.08, -2.8), (1991.35, -0.3),
    (1991.62, -1.0), (1991.89, 1.5), (1992.16, 1.0), (1992.43, 1.0), (1992.70, 0.8), (1992.97, -2.0),
    (1993.24, -0.8), (1993.51, 0.0), (1993.78, 2.3), (1994.05, 2.0), (1994.32, -0.5), (1994.59, 1.5),
    (1994.86, 0.0), (1995.14, -1.2), (1995.41, 0.4), (1995.68, 0.0), (1995.95, 0.4), (1996.22, 3.6),
    (1996.49, 0.6), (1996.76, 0.3), (1997.03, 2.5), (1997.30, 2.4), (1997.57, 0.2), (1997.84, 0.3),
    (1998.11, 1.1), (1998.38, 3.2), (1998.65, 3.1), (1998.92, 0.8), (1999.19, 0.6), (1999.46, 2.6),
    (1999.73, 3.8), (2000.00, 0.6), (2000.18, 3.5), (2000.40, 0.5), (2000.63, -1.9), (2000.90, -1.6),
    (2001.17, -4.2), (2001.44, -2.0), (2001.80, -0.3), (2002.07, 0.6), (2002.34, -1.0), (2002.70, -2.0),
    (2002.97, -0.5), (2003.24, 2.5), (2003.51, 3.3), (2003.78, 0.8), (2004.05, 0.3), (2004.32, 0.6),
    (2004.59, 1.0), (2004.86, 1.4), (2005.14, -0.3), (2005.41, 0.5), (2005.68, 0.4), (2005.95, 1.7),
    (2006.22, -0.8), (2006.49, -2.0), (2006.76, -1.2), (2007.03, -1.8), (2007.30, 0.0), (2007.57, -0.5),
    (2007.84, -2.0), (2008.02, -4.0), (2008.29, -3.2), (2008.50, -5.0), (2008.74, -5.7), (2009.01, -4.5),
    (2009.28, -1.8), (2009.55, 0.4), (2009.82, 1.2), (2010.09, 0.8), (2010.27, -0.5), (2010.54, -0.3),
    (2010.81, -1.5), (2010.99, -2.8), (2011.26, 0.4), (2011.53, 0.0), (2011.75, 1.3), (2011.98, -0.3),
    (2012.25, -1.0), (2012.52, -2.5), (2012.79, -1.3), (2013.06, -1.0), (2013.33, -1.8), (2013.60, 1.5),
    (2013.87, 0.5), (2014.14, 2.2), (2014.41, 1.5), (2014.68, -0.3), (2014.95, 0.0), (2015.32, 0.3),
    (2015.68, -1.5), (2016.04, -1.8), (2016.40, -0.2), (2016.67, -0.8), (2016.94, -1.0), (2017.21, 0.5),
    (2017.50, 0.9)]

# ---------------- inflation ----------------
inf_actual = [
    (1962.00, -1.6), (1962.27, -2.0), (1962.62, -2.1), (1962.97, -2.1), (1963.32, -1.4), (1963.67, -1.6),
    (1964.02, -1.4), (1964.38, -2.0), (1964.90, -1.9), (1965.25, -1.3), (1965.61, -2.0), (1965.96, -0.06),
    (1966.31, 0.06), (1966.66, -0.7), (1967.01, -2.1), (1967.36, -0.9), (1967.72, 0.8), (1968.07, 0.9),
    (1968.59, 1.2), (1969.12, 1.9), (1969.47, 1.4), (1970.00, 1.2), (1970.53, 0.7), (1970.88, 1.2),
    (1971.23, 0.5), (1971.58, -0.8), (1971.93, 0.4), (1972.21, -1.0), (1972.64, 0.2), (1973.16, 4.2),
    (1973.51, 4.2), (1973.94, 8.5), (1974.29, 7.7), (1974.64, 6.9), (1974.99, 3.6), (1975.20, 1.5),
    (1975.45, 3.4), (1975.80, 2.4), (1976.15, 0.06), (1976.50, 3.0), (1976.85, 3.4), (1977.38, 2.6),
    (1977.73, 2.4), (1978.08, 3.8), (1978.44, 4.0), (1978.79, 4.6), (1979.14, 7.5), (1979.49, 6.8),
    (1979.84, 6.9), (1980.19, 6.5), (1980.54, 6.0), (1981.00, 7.0), (1981.32, 3.8), (1981.78, 2.6),
    (1982.13, 0.5), (1982.48, 3.0), (1982.83, 1.2), (1983.18, 1.9), (1983.53, -0.7), (1983.88, 0.9),
    (1984.23, -0.06), (1984.59, -0.7), (1984.94, 0.2), (1985.29, -0.06), (1985.82, -0.5), (1986.17, -3.7),
    (1986.52, -1.0), (1986.87, -0.06), (1987.40, 0.9), (1987.75, -0.06), (1988.10, 1.2), (1988.45, 1.4),
    (1988.80, 0.8), (1989.05, 2.4), (1989.51, 0.9), (1989.79, 1.8), (1990.11, 1.2), (1990.46, 2.0),
    (1990.81, -1.3), (1991.16, -0.4), (1991.51, -0.9), (1991.97, -0.4), (1992.50, -0.7), (1993.02, -0.5),
    (1993.37, -1.0), (1993.73, -0.9), (1994.08, -1.3), (1994.43, -0.4), (1994.78, -1.2), (1995.13, -1.0),
    (1995.48, -1.5), (1995.83, -0.8), (1996.19, -0.8), (1996.54, -1.0), (1996.89, -1.6), (1997.24, -2.1),
    (1997.59, -2.0), (1997.94, -2.9), (1998.30, -2.0), (1998.65, -2.0), (1999.00, -1.0), (1999.35, -1.3),
    (1999.70, -0.06), (2000.05, -0.8), (2000.40, -1.0), (2000.76, -0.9), (2001.11, -1.9), (2001.46, -3.0),
    (2001.81, -2.9), (2002.16, -0.3), (2002.41, -0.8), (2002.69, -1.0), (2002.93, -1.6), (2003.22, -3.0),
    (2003.57, -0.9), (2003.92, -0.7), (2004.27, -0.4), (2004.62, -1.0), (2004.97, -0.5), (2005.32, 0.4),
    (2005.68, -0.4), (2006.03, -0.8), (2006.38, -0.06), (2006.73, -4.0), (2007.08, 0.3), (2007.43, 0.2),
    (2007.79, 0.8), (2008.14, 0.9), (2008.49, -3.7), (2008.73, -9.1), (2009.02, -3.7), (2009.37, -0.7),
    (2009.72, -0.4), (2010.07, -1.9), (2010.49, -1.0), (2010.84, -0.3), (2011.19, 0.8), (2011.48, -0.5),
    (2011.83, -1.4), (2012.18, -2.1), (2012.53, -1.3), (2012.88, -1.6), (2013.23, -3.1), (2013.59, -1.5),
    (2013.94, -1.2), (2014.29, -1.3), (2014.64, -2.3), (2014.99, -2.5), (2015.27, -4.3), (2015.52, -2.0),
    (2015.87, -1.3), (2016.22, -1.4), (2016.68, -1.3), (2017.10, -1.1), (2017.50, -1.2)]

inf_high = [
    (1962.62, -2.0), (1962.97, -2.4), (1963.15, -4.7), (1963.50, -2.5), (1963.85, -3.7), (1964.20, -5.9),
    (1964.55, -4.5), (1964.90, -6.6), (1965.25, -4.6), (1965.61, -5.8), (1965.96, -2.5), (1966.31, -0.7),
    (1966.66, 0.2), (1967.01, -0.06), (1967.36, -0.3), (1967.72, 1.8), (1968.07, 2.4), (1968.59, 2.9),
    (1969.12, 3.5), (1969.65, 3.2), (1970.18, 3.0), (1970.70, 2.6), (1971.05, 2.1), (1971.41, 2.6),
    (1971.83, 2.1), (1972.21, 2.4), (1972.64, 2.3), (1972.99, 3.6), (1973.34, 4.8), (1973.87, 9.2),
    (1974.22, 9.0), (1974.57, 7.9), (1974.92, 5.4), (1975.34, 6.0), (1975.62, 4.6), (1975.98, 2.4),
    (1976.33, 3.0), (1976.75, 4.8), (1977.10, 3.6), (1977.56, 3.4), (1977.91, 4.0), (1978.26, 5.2),
    (1978.68, 4.5), (1979.14, 8.4), (1979.49, 7.0), (1979.91, 9.3), (1980.19, 7.5), (1980.54, 7.1),
    (1980.90, 6.0), (1981.32, 4.6), (1981.78, 3.4), (1982.13, 1.4), (1982.48, 2.4), (1982.83, 1.9),
    (1983.29, 2.5), (1983.71, 1.2), (1984.06, 1.3), (1984.41, 0.2), (1984.94, 0.9), (1985.47, 0.06),
    (1985.99, -0.9), (1986.24, -2.5), (1986.59, -0.4), (1987.05, 0.5), (1987.40, 1.2), (1987.75, 0.2),
    (1988.28, 1.6), (1988.80, 0.7), (1989.33, 1.9), (1989.86, 0.9), (1990.21, 1.5), (1990.74, -0.3),
    (1991.27, -0.7), (1991.79, -0.4), (1992.50, -0.4), (1993.20, 0.06), (1993.73, 0.2), (1994.43, 1.2),
    (1994.96, 0.2), (1995.48, 0.2), (1996.19, -0.4), (1996.89, -0.06), (1997.42, -0.7), (1997.94, -1.3),
    (1998.47, -0.9), (1999.00, -0.9), (1999.53, -0.3), (1999.88, 0.06), (2000.40, -0.8), (2000.93, -1.0),
    (2001.46, -1.5), (2001.92, -2.9), (2002.27, 2.7), (2002.62, 1.2), (2002.97, 2.4), (2003.32, -0.4),
    (2003.67, 0.4), (2004.09, -0.7), (2004.52, 0.06), (2004.97, 0.7), (2005.43, 1.4), (2005.85, 0.2),
    (2006.27, 1.2), (2006.73, -0.06), (2007.15, 1.2), (2007.61, -0.4), (2008.14, 1.4), (2008.49, -2.5),
    (2008.73, -8.2), (2009.09, -1.9), (2009.44, -0.5), (2009.79, -0.9), (2010.14, -0.3), (2010.60, -0.06),
    (2011.12, 0.8), (2011.48, -0.06), (2012.00, -1.0), (2012.35, -0.3), (2012.88, -0.9), (2013.41, -0.3),
    (2013.94, -0.06), (2014.29, -0.3), (2014.64, -1.3), (2014.99, -2.0), (2015.34, -1.0), (2015.69, -0.4),
    (2016.22, -0.3), (2016.68, -0.3), (2017.10, 0.1), (2017.50, -0.2)]

inf_low = [
    (1962.62, -2.0), (1963.15, -2.0), (1963.67, -1.6), (1964.38, -1.9), (1964.90, -1.7), (1965.43, -1.9),
    (1965.78, -1.8), (1966.13, -1.6), (1966.66, -0.9), (1967.01, -4.1), (1967.36, -1.9), (1967.72, -0.06),
    (1968.24, 1.6), (1968.95, 2.3), (1969.47, 1.8), (1970.00, 1.6), (1970.53, 1.2), (1971.05, 1.4),
    (1971.58, 0.2), (1972.11, 1.4), (1972.46, -0.06), (1972.99, 3.6), (1973.51, 4.3), (1973.94, 8.7),
    (1974.29, 7.9), (1974.64, 6.9), (1974.99, 3.8), (1975.27, 2.1), (1975.62, 3.8), (1976.05, 1.2),
    (1976.33, 3.6), (1976.75, 3.6), (1977.21, 2.4), (1977.56, 1.6), (1978.08, 3.6), (1978.44, 3.6),
    (1978.79, 4.5), (1979.14, 7.0), (1979.49, 6.8), (1979.84, 6.5), (1980.19, 6.3), (1980.61, 5.1),
    (1981.07, 3.6), (1981.60, 1.8), (1981.95, 0.9), (1982.30, 1.4), (1982.65, -1.0), (1983.08, 0.4),
    (1983.53, -1.3), (1984.06, 0.4), (1984.59, -0.7), (1985.11, -1.6), (1985.64, -0.7), (1986.17, -3.2),
    (1986.59, -1.0), (1987.40, 0.8), (1988.28, 1.2), (1989.05, 2.0), (1989.68, 1.2), (1990.21, 1.2),
    (1990.81, -1.8), (1991.27, -0.7), (1991.79, -1.0), (1992.50, -1.3), (1993.20, -0.9), (1993.90, -2.0),
    (1994.61, -1.0), (1995.31, -1.4), (1996.01, -1.0), (1996.71, -1.3), (1997.42, -2.0), (1997.94, -3.6),
    (1998.47, -2.1), (1999.00, -1.0), (1999.70, -0.4), (2000.23, -1.0), (2000.93, -1.3), (2001.46, -3.1),
    (2001.92, -2.5), (2002.27, 1.4), (2002.62, 0.3), (2002.97, 0.9), (2003.39, -1.0), (2003.92, -1.0),
    (2004.45, -1.3), (2004.97, -0.8), (2005.32, -0.06), (2005.85, -0.9), (2006.20, -1.9), (2006.62, -2.6),
    (2007.08, -2.9), (2007.61, -2.7), (2008.14, -2.4), (2008.49, -3.7), (2008.73, -4.9), (2009.09, -4.0),
    (2009.54, -3.7), (2010.07, -3.1), (2010.49, -1.3), (2010.95, -0.9), (2011.30, 0.4), (2011.65, -1.3),
    (2012.18, -2.5), (2012.71, -1.6), (2013.23, -2.0), (2013.59, -1.3), (2014.11, -1.0), (2014.64, -2.5),
    (2014.99, -3.5), (2015.27, -5.7), (2015.62, -2.5), (2015.97, -1.9), (2016.33, -1.3), (2016.68, -1.0),
    (2017.10, -0.8), (2017.50, -1.0)]

tp_ticks = [-1, -0.5, 0, 0.5, 1]
ir_ticks = [-5, 0, 5, 10]
gdp_ticks = [-10, -5, 0, 5, 10, 15]
inf_ticks = [-8, -6, -4, -2, 0, 2, 4, 6, 8]

LOW_DASH = (2.6, 1.3, 0.7, 1.3)


def xy(pairs):
    arr = np.array(pairs, dtype=float)
    return arr[:, 0], arr[:, 1]


def px_axes(fig, left, top, right, bottom):
    # pixel box (origin top-left) -> figure fraction
    return fig.add_axes([left / W, 1 - bottom / H, (right - left) / W, (bottom - top) / H])


def draw_panel(ax, title, actual, high, low, yticks, ylim):
    t, v = xy(actual)
    ax.plot(t, v, color='black', lw=5.4)
    t, v = xy(high)
    ax.plot(t, v, color=GOLD, lw=2.2)
    t, v = xy(low)
    ax.plot(t, v, color=GOLD, lw=2.2, dashes=LOW_DASH)

    ax.set_xlim(1962.0, 2017.5)
    ax.set_ylim(*ylim)
    ax.set_xticks(year_ticks)
    ax.set_xticklabels([str(y) for y in year_ticks])
    ax.set_yticks(yticks)
    ax.set_yticklabels(['%g' % y for y in yticks])
    for side in ('top', 'right'):
        ax.spines[side].set_visible(False)
    for side in ('left', 'bottom'):
        ax.spines[side].set_color(INK)
        ax.spines[side].set_linewidth(1.2)
    ax.tick_params(axis='both', direction='in', length=8.6, width=1.0, color=INK,
                   labelcolor=INK, labelsize=25)
    ax.tick_params(axis='y', pad=10)
    ax.tick_params(axis='x', pad=16)
    ax.set_title(title, fontsize=28, fontweight='bold', color='black', pad=5)


fig = plt.figure(figsize=(W / 100, H / 100), dpi=100, facecolor=BG)

# faint slide pattern in the strip above the white page
decor = [(553, 518), (740, 780), (915, 890), (1300, 1268), (1490, 1436), (1705, 1669),
         (1777, 1759), (1876, 1867), (1870, 1905), (1975, 1903), (2163, 2208), (2298, 2351),
         (2340, 2300), (2495, 2495), (2639, 2719), (2807, 2746)]
for xt, xb in decor:
    fig.add_artist(Line2D([xt / W, xb / W], [1.0, 1 - 60 / H], transform=fig.transFigure,
                          color='#F5C3B4', lw=1.6, zorder=-2))
fig.add_artist(Rectangle((20 / W, 0), 1 - 20 / W, 1 - 37 / H, transform=fig.transFigure,
                         facecolor='white', edgecolor='none', zorder=-1))

ax_tp = px_axes(fig, 99, 50, 1276, 852)
ax_ir = px_axes(fig, 1647, 50, 2824, 852)
ax_gdp = px_axes(fig, 99, 1163, 1276, 1966)
ax_inf = px_axes(fig, 1647, 1163, 2824, 1966)

draw_panel(ax_tp, 'Term premium', tp_actual, tp_high, tp_low, tp_ticks, (-1.14, 1.11))
draw_panel(ax_ir, 'Interest rate', ir_actual, ir_high, ir_low, ir_ticks, (-5.07, 11.16))
draw_panel(ax_gdp, 'GDP growth', gdp_actual, gdp_high, gdp_low, gdp_ticks, (-11.75, 15.67))
draw_panel(ax_inf, 'Inflation', inf_actual, inf_high, inf_low, inf_ticks, (-9.08, 9.4))

handles = [Line2D([], [], color='black', lw=5.4),
           Line2D([], [], color=GOLD, lw=2.2),
           Line2D([], [], color=GOLD, lw=2.2, dashes=LOW_DASH)]
leg = ax_inf.legend(handles, series_names, loc='upper left', bbox_to_anchor=(0.597, 0.959),
                    fontsize=23, frameon=True, fancybox=False, edgecolor=INK, facecolor='white',
                    framealpha=1, handlelength=4.2, handletextpad=0.3, labelspacing=0.3,
                    borderpad=0.3, borderaxespad=0)
leg.get_frame().set_linewidth(1.2)
for txt in leg.get_texts():
    txt.set_color(INK)

fig.savefig('out.png', dpi=100, facecolor=BG)
